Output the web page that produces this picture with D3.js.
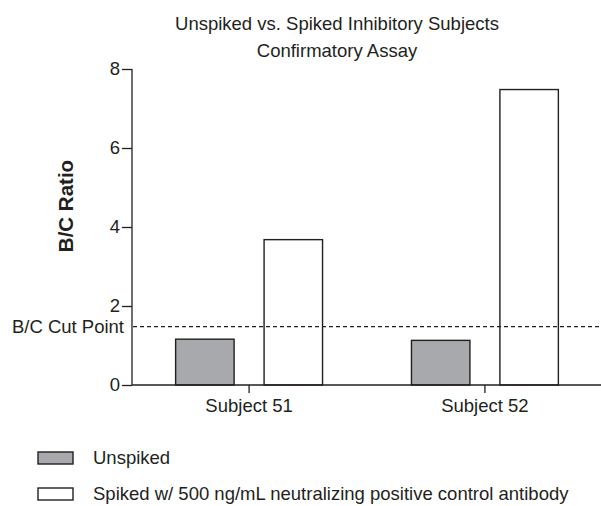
<!DOCTYPE html>
<html>
<head>
<meta charset="utf-8">
<script src="https://cdn.jsdelivr.net/npm/d3@7"></script>
<style>
  body { margin: 0; background: #fff; }
  svg { display: block; font-family: "Liberation Sans", Arial, sans-serif; }
  .axis path, .axis line { stroke: #231f20; stroke-width: 1.3; }
  .axis text { fill: #231f20; font-size: 18.5px; }
</style>
</head>
<body>
<svg width="601" height="506"></svg>
<script>
var subjects = ["Subject 51", "Subject 52"];
var seriesNames = ["Unspiked", "Spiked w/ 500 ng/mL neutralizing positive control antibody"];
var unspiked = [1.16, 1.13];
var spiked = [3.68, 7.48];
var cutPoint = 1.48;
var yTicks = [0, 2, 4, 6, 8];
var titleLines = ["Unspiked vs. Spiked Inhibitory Subjects", "Confirmatory Assay"];

var svg = d3.select("svg");
var fills = ["#a7a9ac", "#ffffff"];
var ink = "#231f20";

var y = d3.scaleLinear().domain([0, 8]).range([385, 69]);

var x0 = d3.scaleBand()
    .domain(subjects)
    .range([132, 602])
    .paddingInner(0.377)
    .paddingOuter(0.185);

var x1 = d3.scaleBand()
    .domain(seriesNames)
    .range([0, x0.bandwidth()])
    .paddingInner(0.339);

var rows = subjects.map(function(s, i) {
    return {subject: s, values: [unspiked[i], spiked[i]]};
});

// bars
svg.append("g").selectAll("g")
    .data(rows)
    .join("g")
    .attr("transform", function(d) { return "translate(" + x0(d.subject) + ",0)"; })
    .selectAll("rect")
    .data(function(d) { return d.values.map(function(v, k) { return {k: k, v: v}; }); })
    .join("rect")
    .attr("x", function(d) { return x1(seriesNames[d.k]); })
    .attr("width", x1.bandwidth())
    .attr("y", function(d) { return y(d.v); })
    .attr("height", function(d) { return y(0) - y(d.v); })
    .style("fill", function(d) { return fills[d.k]; })
    .style("stroke", ink)
    .style("stroke-width", 1.4);

// cut point
svg.append("line")
    .attr("x1", 133).attr("x2", 601)
    .attr("y1", y(cutPoint)).attr("y2", y(cutPoint))
    .style("stroke", ink)
    .style("stroke-width", 1.2)
    .style("stroke-dasharray", "4,3");

svg.append("text")
    .attr("x", 124).attr("y", y(cutPoint))
    .attr("dy", "0.35em")
    .attr("text-anchor", "end")
    .style("font-size", "18.5px")
    .style("fill", ink)
    .text("B/C Cut Point");

// axes
var yAxis = svg.append("g")
    .attr("class", "axis")
    .attr("transform", "translate(132,0)")
    .call(d3.axisLeft(y).tickValues(yTicks).tickSize(10).tickPadding(2).tickSizeOuter(0));
yAxis.select(".domain").attr("d", "M0," + y(0) + "V" + y(8));

var xAxis = svg.append("g")
    .attr("class", "axis")
    .attr("transform", "translate(0," + y(0) + ")")
    .call(d3.axisBottom(x0).tickSize(8).tickPadding(6).tickSizeOuter(0));
xAxis.select(".domain").attr("d", "M132,0H601");

svg.append("text")
    .attr("transform", "translate(73,206) rotate(-90)")
    .attr("text-anchor", "middle")
    .style("font-size", "20.5px")
    .style("font-weight", "bold")
    .style("fill", ink)
    .text("B/C Ratio");

// title
svg.append("g").selectAll("text")
    .data(titleLines)
    .join("text")
    .attr("x", 337)
    .attr("y", function(d, i) { return 30 + i * 27; })
    .attr("text-anchor", "middle")
    .style("font-size", "18.5px")
    .style("fill", ink)
    .text(function(d) { return d; });

// legend
var legend = svg.append("g").selectAll("g")
    .data(seriesNames)
    .join("g")
    .attr("transform", function(d, i) { return "translate(38," + (452 + i * 36) + ")"; });

legend.append("rect")
    .attr("width", 35).attr("height", 12)
    .style("fill", function(d, i) { return fills[i]; })
    .style("stroke", ink)
    .style("stroke-width", 1.4);

legend.append("text")
    .attr("x", 55).attr("y", 6)
    .attr("dy", "0.35em")
    .style("font-size", "18.5px")
    .style("fill", ink)
    .text(function(d) { return d; });
</script>
</body>
</html>
